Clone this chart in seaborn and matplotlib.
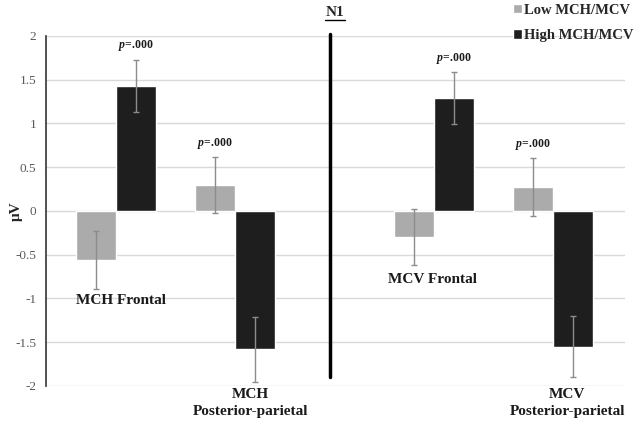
import pandas as pd
import seaborn as sns
import matplotlib.pyplot as plt
import numpy as np

# values (µV)
regions = ["MCH Frontal", "MCH Posterior-parietal", "MCV Frontal", "MCV Posterior-parietal"]
region_labels = ["MCH Frontal", "MCH\nPosterior-parietal", "MCV Frontal", "MCV\nPosterior-parietal"]
groups = ["Low MCH/MCV", "High MCH/MCV"]
low_means = [-0.56, 0.30, -0.30, 0.27]
high_means = [1.43, -1.58, 1.29, -1.55]
low_err = [0.33, 0.32, 0.32, 0.33]
high_err = [0.30, 0.37, 0.30, 0.35]
p_labels = ["p=.000", "p=.000", "p=.000", "p=.000"]
yticks = [2, 1.5, 1, 0.5, 0, -0.5, -1, -1.5, -2]

sns.set_style("white")
plt.rcParams['font.family'] = ['Liberation Serif', 'DejaVu Serif']
plt.rcParams['mathtext.fontset'] = 'custom'
plt.rcParams['mathtext.it'] = 'Liberation Serif:italic:bold'
plt.rcParams['mathtext.rm'] = 'Liberation Serif:bold'

# the two panels (MCH | MCV) are separated by a wider gap
panel_step = 2.672
pos = [i % 2 + (i // 2) * panel_step for i in range(len(regions))]

df = pd.DataFrame({
    'pos': pos * 2,
    'group': [groups[0]] * 4 + [groups[1]] * 4,
    'uv': low_means + high_means,
})

fig = plt.figure(figsize=(6.4, 4.25), dpi=100)
ax = fig.add_axes([0.0719, 0.0918, 0.905, 0.8235])

palette = {groups[0]: '#ababab', groups[1]: '#1e1e1e'}
sns.barplot(data=df, x='pos', y='uv', hue='group', palette=palette,
            native_scale=True, width=0.67, errorbar=None, ax=ax,
            saturation=1, legend=True)

# error bars at bar centres
errs = [low_err, high_err]
means = [low_means, high_means]
bar_conts = list(ax.containers)
centers = []
for k, cont in enumerate(bar_conts):
    xs = [b.get_x() + b.get_width() / 2 for b in cont]
    ax.errorbar(xs, means[k], yerr=errs[k], fmt='none', ecolor='#8c8c8c',
                elinewidth=1, capsize=2.5, capthick=1, zorder=3)
    centers.append(xs)

# p-value labels: above high bar (frontal) and low bar (posterior)
for i in range(len(regions)):
    k = 1 if i % 2 == 0 else 0
    top = means[k][i] + errs[k][i]
    ax.text(centers[k][i], top + 0.07, r"$p$=.000", ha='center', va='bottom',
            fontsize=8.5, fontweight='bold', color='#1a1a1a')

# region labels
label_dx = [0.04, 0.13, -0.01, 0.12]
label_y = [-1.02, -2.02, -0.78, -2.02]
for i, lab in enumerate(region_labels):
    ax.text(pos[i] + label_dx[i], label_y[i], lab, ha='center',
            va='center' if i % 2 == 0 else 'top',
            fontsize=11, fontweight='bold', color='#1a1a1a', linespacing=1.45)

ax.set_ylim(-2, 2)
ax.set_xlim(-0.59, 4.28)
ax.set_yticks(yticks)
ax.set_yticklabels([f"{t:g}" for t in yticks], color='#595959', fontsize=9.5)
ax.tick_params(axis='y', length=0, pad=7)
ax.set_xticks([])
ax.set_xlabel('')
ax.set_ylabel('μV', fontweight='bold', fontsize=11, va='center')
ax.yaxis.set_label_coords(-30 / 579, 0.5)
ax.grid(axis='y', color='#d9d9d9', linewidth=1)
ax.set_axisbelow(True)
for s in ['top', 'right', 'bottom']:
    ax.spines[s].set_visible(False)
ax.spines['left'].set_color('#333333')
ax.spines['left'].set_linewidth(1.2)

# panel divider
xdiv = 1.80
ax.plot([xdiv, xdiv], [2.02, -1.9], color='black', lw=2.5, clip_on=False)

fig.text(335 / 640, 1 - 12 / 425, 'N1', ha='center', va='center',
         fontsize=11, fontweight='bold')
fig.add_artist(plt.Line2D([325 / 640, 345 / 640], [1 - 20 / 425] * 2,
                          color='black', lw=1))

ax.legend(loc='upper left', bbox_to_anchor=(507 / 640, 1.005), bbox_transform=fig.transFigure,
          frameon=False, handlelength=0.6, handleheight=0.6, handletextpad=0.2,
          labelspacing=0.85, prop={'weight': 'bold', 'size': 10.5}, borderaxespad=0)

plt.savefig('out.png', dpi=100)
